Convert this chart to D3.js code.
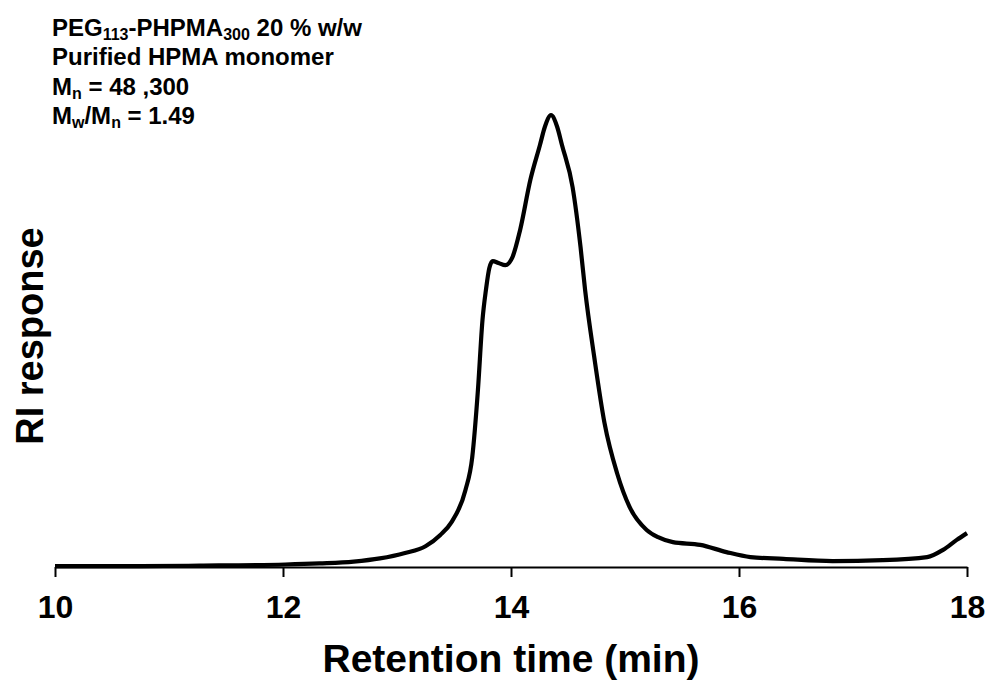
<!DOCTYPE html>
<html lang="en">
<head>
  <meta charset="UTF-8">
  <title>RI response vs retention time</title>
  <script src="https://d3js.org/d3.v7.min.js"></script>
  <style>
    body {
      margin: 0;
      background: #fff;
      font-family: Arial, "Liberation Sans", sans-serif;
    }
    svg text {
      font-weight: bold;
      fill: #000;
    }
  </style>
</head>
<body>
  <svg id="chart"></svg>

  <script>
    // GPC trace (time in min, RI response normalised)
    const retentionTime = [10.00, 10.75, 11.27, 12.02, 12.32, 12.62, 12.85, 13.07, 13.25, 13.38,
      13.48, 13.60, 13.66, 13.71, 13.75, 13.78, 13.81, 13.84, 13.89, 13.95,
      14.01, 14.08, 14.17, 14.254, 14.298, 14.351, 14.404, 14.447, 14.54, 14.61, 14.65,
      14.73, 14.82, 14.93, 15.04, 15.19, 15.29, 15.42, 15.66, 15.89, 16.10,
      16.39, 16.82, 17.26, 17.65, 17.79, 17.91, 18.00];
    const riResponse = [0.002, 0.002, 0.003, 0.0055, 0.008, 0.012, 0.019, 0.031, 0.046, 0.071,
      0.100, 0.170, 0.243, 0.392, 0.547, 0.613, 0.662, 0.677, 0.673, 0.668,
      0.684, 0.746, 0.857, 0.934, 0.975, 1.000, 0.975, 0.934, 0.841, 0.708, 0.613,
      0.465, 0.319, 0.208, 0.133, 0.082, 0.066, 0.055, 0.049, 0.033, 0.022,
      0.018, 0.013, 0.015, 0.022, 0.038, 0.060, 0.075];

    const xTicks = [10, 12, 14, 16, 18];

    const width = 988, height = 685;
    const margin = { top: 70, right: 21, bottom: 118, left: 55 };

    const svg = d3.select("#chart")
      .attr("width", width)
      .attr("height", height);

    const x = d3.scaleLinear()
      .domain([10, 18])
      .range([margin.left, width - margin.right]);

    const y = d3.scaleLinear()
      .domain([0, 1.1])
      .range([height - margin.bottom, margin.top]);

    // x axis
    const xAxis = svg.append("g")
      .attr("transform", `translate(0,${height - margin.bottom})`)
      .call(d3.axisBottom(x).tickValues(xTicks).tickSize(10).tickPadding(18).tickSizeOuter(0));

    xAxis.select(".domain").attr("stroke-width", 2.2);
    xAxis.selectAll(".tick line").attr("stroke-width", 2);
    xAxis.selectAll(".tick text")
      .attr("font-family", "Arial, 'Liberation Sans', sans-serif")
      .attr("font-size", 32)
      .attr("font-weight", "bold");

    // trace
    const pts = retentionTime.map((t, i) => [t, riResponse[i]]);
    const line = d3.line()
      .x(d => x(d[0]))
      .y(d => y(d[1]))
      .curve(d3.curveMonotoneX);

    svg.append("path")
      .datum(pts)
      .attr("fill", "none")
      .attr("stroke", "#000")
      .attr("stroke-width", 4.2)
      .attr("stroke-linejoin", "round")
      .attr("d", line);

    // axis titles
    svg.append("text")
      .attr("x", (margin.left + width - margin.right) / 2)
      .attr("y", 672)
      .attr("text-anchor", "middle")
      .attr("font-size", 39)
      .text("Retention time (min)");

    svg.append("text")
      .attr("transform", "translate(43,336) rotate(-90)")
      .attr("text-anchor", "middle")
      .attr("font-size", 38)
      .text("RI response");

    // annotation block, parts flagged true are subscripts
    const notes = [
      [["PEG", false], ["113", true], ["-PHPMA", false], ["300", true], [" 20 % w/w", false]],
      [["Purified HPMA monomer", false]],
      [["M", false], ["n", true], [" = 48 ,300", false]],
      [["M", false], ["w", true], ["/M", false], ["n", true], [" = 1.49", false]]
    ];

    notes.forEach((parts, i) => {
      const t = svg.append("text")
        .attr("x", 52)
        .attr("y", 36 + i * 29.3)
        .attr("font-size", 24);
      let low = false;
      parts.forEach(([s, sub]) => {
        const span = t.append("tspan").text(s);
        if (sub && !low) { span.attr("dy", 4); low = true; }
        else if (!sub && low) { span.attr("dy", -4); low = false; }
        if (sub) span.attr("font-size", 16);
      });
    });
  </script>
</body>
</html>
